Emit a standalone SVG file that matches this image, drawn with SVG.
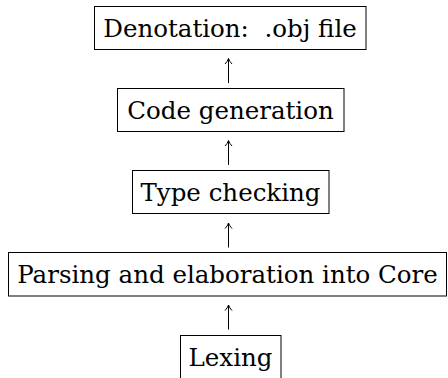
<svg xmlns="http://www.w3.org/2000/svg" width="448" height="378" viewBox="0 0 448 378">
<style>
.box{fill:#fff;stroke:#000;stroke-width:1}
.lbl{font-family:"DejaVu Serif","Liberation Serif",serif;font-size:24.5px;fill:#000;text-anchor:middle}
.arr{stroke:#000;stroke-width:1;fill:none}
</style>
<defs>
<marker id="up" markerUnits="userSpaceOnUse" markerWidth="12" markerHeight="12" refX="6" refY="1" orient="0" viewBox="0 0 12 12">
<path d="M2.5,6.5 Q5,4 6,1 Q7,4 9.5,6.5" fill="none" stroke="#000" stroke-width="1"/>
</marker>
</defs>
<rect width="448" height="378" fill="#fff"/>
<g id="connectors">
<line class="arr" x1="228.5" y1="83" x2="228.5" y2="58.5" marker-end="url(#up)"/>
<line class="arr" x1="228.5" y1="165" x2="228.5" y2="140.5" marker-end="url(#up)"/>
<line class="arr" x1="228.5" y1="247.5" x2="228.5" y2="223" marker-end="url(#up)"/>
<line class="arr" x1="228.5" y1="329.5" x2="228.5" y2="305" marker-end="url(#up)"/>
</g>
<g id="denotation">
<rect class="box" x="94.5" y="6.5" width="271.5" height="43"/>
<text class="lbl" x="230" y="36.5">Denotation:&#160; .obj file</text>
</g>
<g id="codegen">
<rect class="box" x="117.5" y="88.5" width="226.5" height="43"/>
<text class="lbl" x="230.5" y="118.5">Code generation</text>
</g>
<g id="typecheck">
<rect class="box" x="132.5" y="170.5" width="196.5" height="43"/>
<text class="lbl" x="230.5" y="200.5">Type checking</text>
</g>
<g id="parsing">
<rect class="box" x="8.5" y="252.5" width="438" height="43.5"/>
<text class="lbl" x="227.5" y="282.5">Parsing and elaboration into Core</text>
</g>
<g id="lexing">
<rect class="box" x="180.5" y="335.5" width="100.5" height="43"/>
<text class="lbl" x="230.5" y="365.5">Lexing</text>
</g>
</svg>
